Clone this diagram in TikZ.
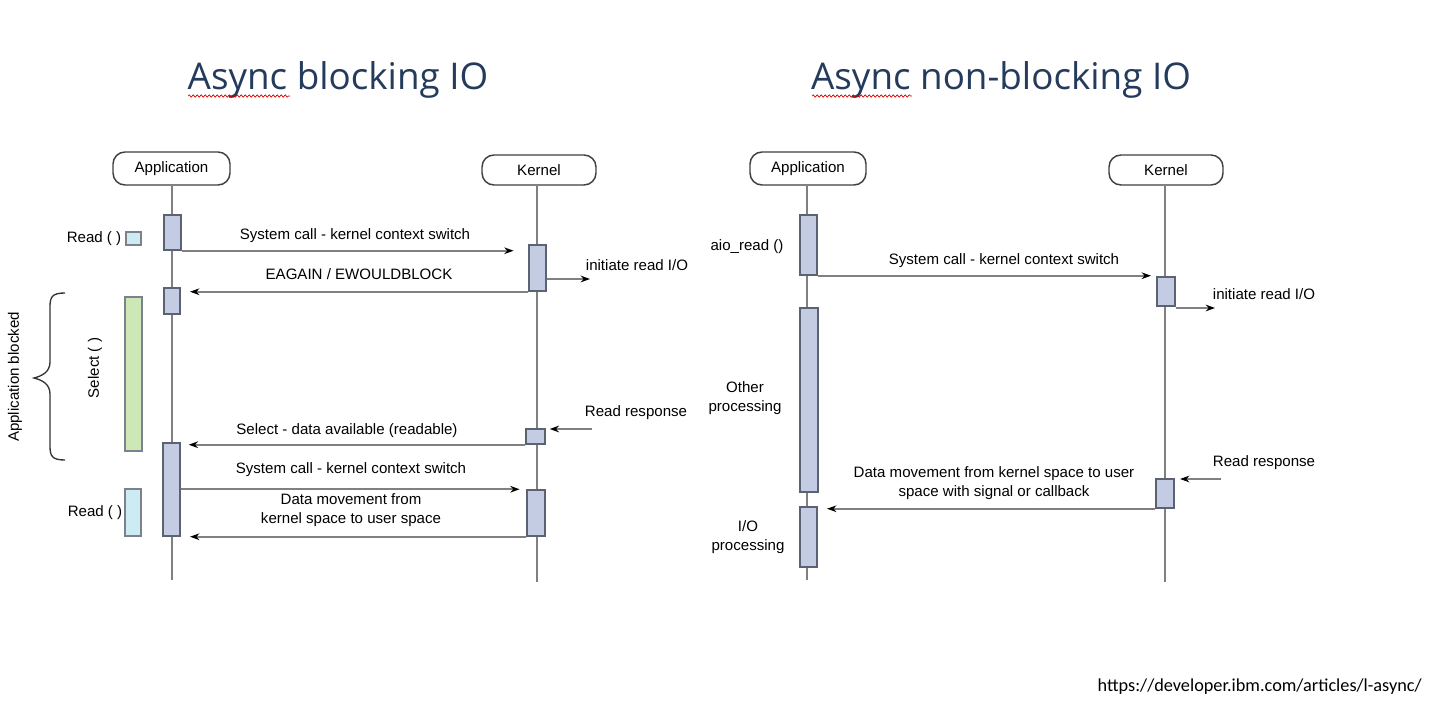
\documentclass[tikz,border=0pt]{standalone}
\usepackage{fontspec}
\setmainfont{Liberation Sans}
\newfontfamily\titlefont{Open Sans}
\newfontfamily\urlfont{Carlito}
\usetikzlibrary{arrows.meta,fit,decorations.pathmorphing}
\definecolor{lifegray}{HTML}{808080}
\definecolor{actfill}{HTML}{C3CCE3}
\definecolor{actdraw}{HTML}{5B6272}
\definecolor{cyanfill}{HTML}{CDEBF3}
\definecolor{greenfill}{HTML}{CDE8B6}
\definecolor{titleblue}{HTML}{243B5C}
\tikzset{
  hdr/.style={draw=black!75, line width=1.1pt, rounded corners=9pt, inner sep=0pt, fill=white},
  hdrtxt/.style={font=\fontsize{11.3}{13}\selectfont, inner sep=0pt},
  life/.style={draw=lifegray, line width=1.5pt},
  act/.style={draw=actdraw, line width=1.1pt, fill=actfill, inner sep=0pt},
  cbox/.style={draw=actdraw!80, line width=1.1pt, fill=cyanfill, inner sep=0pt},
  gbox/.style={draw=actdraw!80, line width=1.1pt, fill=greenfill, inner sep=0pt},
  msg/.style={draw=lifegray, line width=1.5pt, -{Stealth[length=7pt,width=5pt,black]}},
  lbl/.style={font=\fontsize{11.3}{14.8}\selectfont, inner sep=0pt, align=center},
  ttl/.style={font=\titlefont\fontsize{27.6}{32}\selectfont, text=titleblue, anchor=base, inner sep=0pt},
  squig/.style={draw=red!80!black, line width=0.5pt, decorate, decoration={snake, amplitude=0.9pt, segment length=3pt}}
}
\begin{document}
\begin{tikzpicture}[x=0.75pt,y=-0.75pt]
\useasboundingbox[fill=white] (0,0) rectangle (1436,716);

% titles
\node[ttl] (t1) at (338,90) {Async blocking IO};
\node[ttl] (t2) at (1001,90) {Async non-blocking IO};
\coordinate (s1a) at (188,96); \coordinate (s1b) at (290,96);
\coordinate (s2a) at (812,96); \coordinate (s2b) at (912,96);
\draw[squig] (s1a) -- (s1b);
\draw[squig] (s2a) -- (s2b);

% URL
\node[font=\urlfont\fontsize{13.7}{16}\selectfont, anchor=base east, inner sep=0pt] (url) at (1422,691) {https://developer.ibm.com/articles/l-async/};

%================ LEFT DIAGRAM =================
\node[hdr, fit={(113,152)(230,185)}] (app1) {};
\node[hdrtxt] at (app1.center) {Application};
\node[hdr, fit={(482,155)(596,185)}] (ker1) {};
\node[hdrtxt] at (ker1.center) {Kernel};
\coordinate (app1end) at (172,580);
\coordinate (ker1end) at (537,582);
\draw[life] (app1.south -| app1end) -- (app1end);
\draw[life] (ker1.south -| ker1end) -- (ker1end);

\node[act, fit={(164,215)(181,250)}] (a1) {};
\node[act, fit={(164,288)(180,314)}] (a2) {};
\node[act, fit={(163,443)(180,536)}] (a3) {};
\node[act, fit={(529,245)(546,291)}] (k1) {};
\node[act, fit={(526,429)(545,444)}] (k2) {};
\node[act, fit={(527,490)(545,536)}] (k3) {};

\node[cbox, fit={(126,232)(141,245)}] (r1) {};
\node[gbox, fit={(125,297)(142,451)}] (sel) {};
\node[cbox, fit={(125,489)(141,536)}] (r2) {};

\node[lbl] (lr1) at (94,239) {Read ( )};
\node[lbl, rotate=90] (lsel) at (95,368) {Select ( )};
\node[lbl] (lr2) at (95,513) {Read ( )};
\node[lbl, rotate=90] (lblk) at (15,377) {Application blocked};
\draw[line width=1pt, black!80] (65,293) .. controls (52,293) and (50,297) .. (50,307)
  -- (50,362) .. controls (50,372) and (42,376) .. (34,378)
  .. controls (42,380) and (50,384) .. (50,394)
  -- (50,446) .. controls (50,456) and (52,460) .. (65,460);

\draw[msg, shorten >=11pt] (a1.south east) -- (a1.south east -| k1.west);
\node[lbl] (m1) at (355,236) {System call - kernel context switch};
\draw[msg, shorten >=7pt] (k1.south west) -- (k1.south west -| a2.east);
\node[lbl] (m2) at (359,274) {EAGAIN / EWOULDBLOCK};
\coordinate (ir1) at (590,279);
\draw[msg] (ir1 -| k1.east) -- (ir1);
\node[lbl] (m3) at (637,265) {initiate read I/O};
\coordinate (rr1) at (592,429);
\draw[msg, shorten >=3pt] (rr1) -- (rr1 -| k2.east);
\node[lbl] (m4) at (636,413) {Read response};
\draw[msg, shorten >=6pt] (k2.south west) -- (k2.south west -| a3.east);
\node[lbl] (m5) at (347,431) {Select - data available (readable)};
\draw[msg, shorten >=5pt] (k3.north west -| a3.east) -- (k3.north west);
\node[lbl] (m6) at (351,470) {System call - kernel context switch};
\draw[msg, shorten >=7pt] (k3.south west) -- (k3.south west -| a3.east);
\node[lbl] (m7) at (351,510) {Data movement from\\kernel space to user space};

%================ RIGHT DIAGRAM =================
\node[hdr, fit={(750,152)(866,185)}] (app2) {};
\node[hdrtxt] at (app2.center) {Application};
\node[hdr, fit={(1109,155)(1223,185)}] (ker2) {};
\node[hdrtxt] at (ker2.center) {Kernel};
\coordinate (app2end) at (807,580);
\coordinate (ker2end) at (1165,582);
\draw[life] (app2.south -| app2end) -- (app2end);
\draw[life] (ker2.south -| ker2end) -- (ker2end);

\node[act, fit={(800,215)(817,275)}] (b1) {};
\node[act, fit={(800,308)(818,492)}] (b2) {};
\node[act, fit={(800,507)(817,567)}] (b3) {};
\node[act, fit={(1157,277)(1175,306)}] (n1) {};
\node[act, fit={(1156,479)(1174,508)}] (n2) {};

\node[lbl] (laio) at (747,247) {aio\_read ()};
\node[lbl] (loth) at (745,398) {Other\\processing};
\node[lbl] (lio) at (748,537) {I/O\\processing};

\draw[msg, shorten >=4pt] (b1.south east) -- (b1.south east -| n1.west);
\node[lbl] (p1) at (1004,261) {System call - kernel context switch};
\coordinate (ir2) at (1215,308);
\draw[msg] (ir2 -| n1.east) -- (ir2);
\node[lbl] (p2) at (1264,294) {initiate read I/O};
\coordinate (rr2) at (1221,479);
\draw[msg, shorten >=4pt] (rr2) -- (rr2 -| n2.east);
\node[lbl] (p3) at (1264,463) {Read response};
\draw[msg, shorten >=7pt] (n2.south west) -- (n2.south west -| b3.east);
\node[lbl] (p4) at (994,483) {Data movement from kernel space to user\\space with signal or callback};
\end{tikzpicture}
\end{document}
